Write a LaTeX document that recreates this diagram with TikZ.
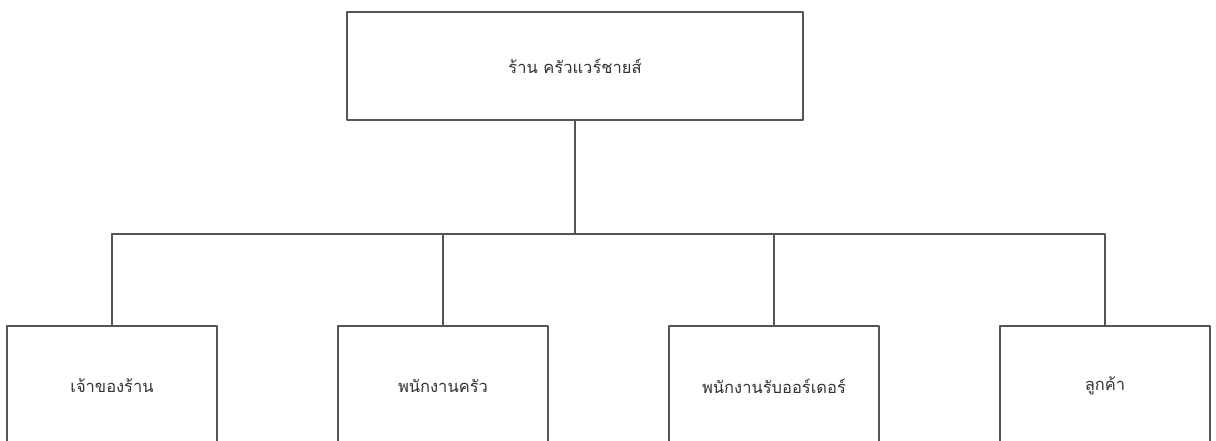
\documentclass[tikz,border=0pt]{standalone}
\usepackage{fontspec}
\newfontfamily\thaifont[Script=Thai]{Loma}
\definecolor{boxline}{HTML}{555555}
\definecolor{boxtext}{HTML}{333333}
\begin{document}
\begin{tikzpicture}[x=0.5pt,y=-0.5pt,line join=round]
\tikzset{orgbox/.style={draw=boxline,line width=0.8pt,fill=white,minimum width=105pt,minimum height=60pt,inner sep=0pt,text=boxtext,font=\thaifont\fontsize{8.25}{10}\selectfont}}
\useasboundingbox (0,0) rectangle (1216,440);
\clip (0,0) rectangle (1216,440);
\node[orgbox,minimum width=228pt,minimum height=54pt] (shop) at (575,66) {ร้าน ครัวแวร์ชายส์};
\coordinate (bar) at (575,234);
\foreach \name/\x/\txt in {owner/112/เจ้าของร้าน,cook/443/พนักงานครัว,waiter/774/พนักงานรับออร์เดอร์,guest/1105/ลูกค้า}
\node[orgbox] (\name) at (\x,386) {\txt};
\draw[boxline,line width=0.8pt] (shop.south)--(bar);
\draw[boxline,line width=0.8pt] (owner.north) |- (bar) -| (guest.north);
\draw[boxline,line width=0.8pt] (cook.north)--(cook.north |- bar);
\draw[boxline,line width=0.8pt] (waiter.north)--(waiter.north |- bar);
\end{tikzpicture}
\end{document}
